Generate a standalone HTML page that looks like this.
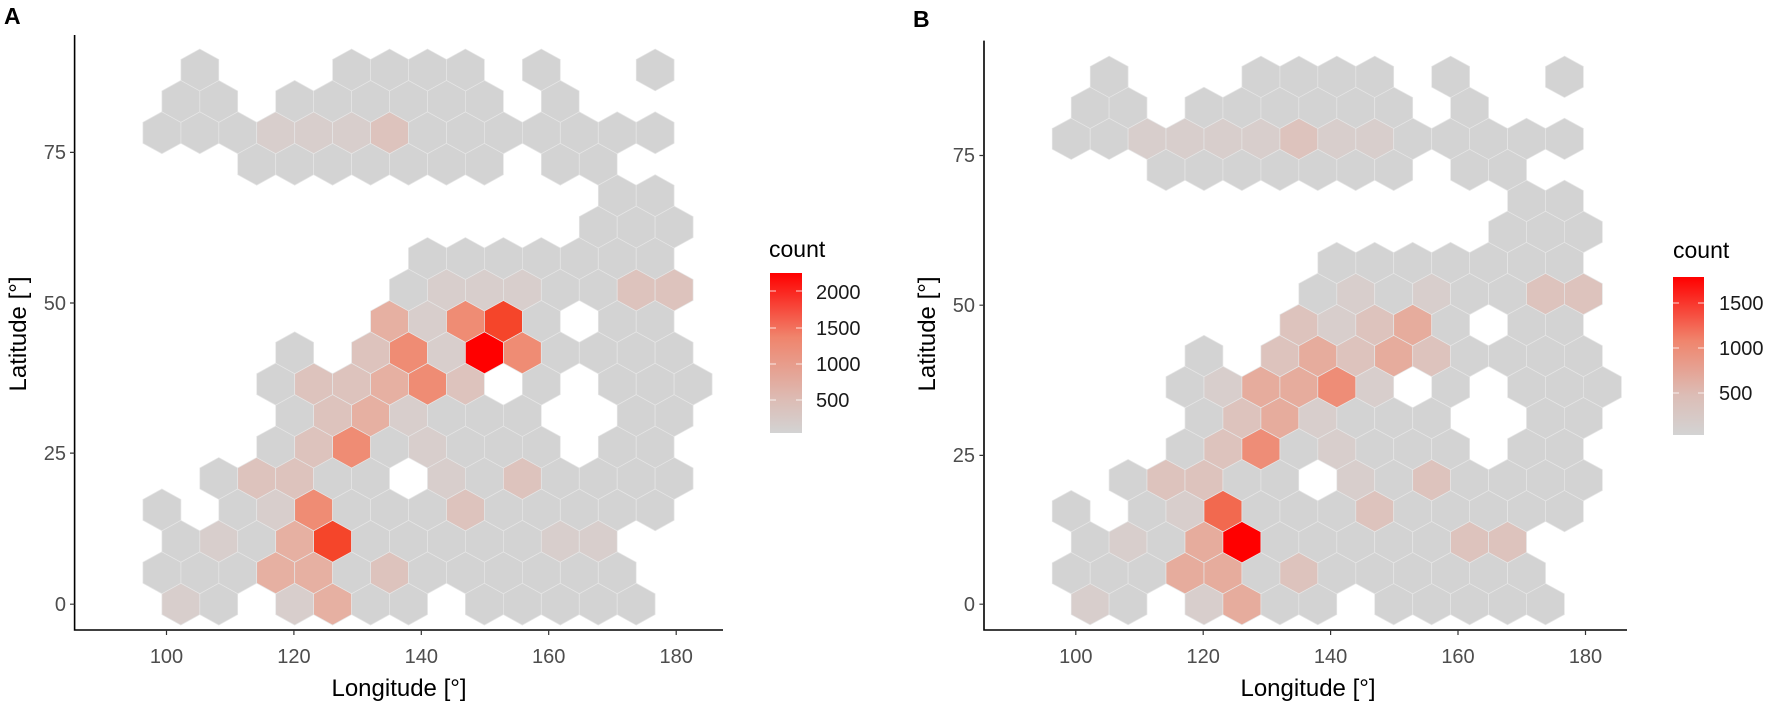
<!DOCTYPE html>
<html><head><meta charset="utf-8"><style>
html,body{margin:0;padding:0;background:#fff;}
svg{display:block;}
text{font-family:"Liberation Sans",Arial,sans-serif;}
</style></head><body>
<svg id="s" width="1772" height="707" viewBox="0 0 1772 707" xmlns="http://www.w3.org/2000/svg">
<defs>
<linearGradient id="gA" x1="0" y1="1" x2="0" y2="0">
<stop offset="0" stop-color="#d3d3d3"/><stop offset="0.2" stop-color="#dcbdb6"/><stop offset="0.6" stop-color="#f0846c"/><stop offset="1" stop-color="#ff0000"/></linearGradient>
<linearGradient id="gB" x1="0" y1="1" x2="0" y2="0">
<stop offset="0" stop-color="#d3d3d3"/><stop offset="0.25" stop-color="#dcbdb6"/><stop offset="0.6" stop-color="#f0846c"/><stop offset="1" stop-color="#ff0000"/></linearGradient>
</defs>
<g id="hA"></g><g id="hB"></g>
<g stroke="#000" stroke-width="1.6" fill="none">
<path d="M74.6 35 V630 H723"/>
<path d="M984 40.6 V630 H1627"/>
</g>
<g stroke="#333" stroke-width="1.2">
<path d="M70 604.2H74.6M70 453.1H74.6M70 303H74.6M70 152.4H74.6"/>
<path d="M166.5 630V635M293.9 630V635M421.3 630V635M548.7 630V635M676.2 630V635"/>
<path d="M979.4 604.2H984M979.4 455.4H984M979.4 305.2H984M979.4 155.5H984"/>
<path d="M1075.8 630V635M1203.2 630V635M1330.6 630V635M1458 630V635M1585.5 630V635"/>
</g>
<g fill="#4d4d4d" font-size="20">
<g text-anchor="end">
<text x="66" y="611">0</text><text x="66" y="460">25</text><text x="66" y="310">50</text><text x="66" y="159">75</text>
<text x="975" y="611">0</text><text x="975" y="462">25</text><text x="975" y="312">50</text><text x="975" y="162">75</text>
</g>
<g text-anchor="middle">
<text x="166.5" y="663">100</text><text x="293.9" y="663">120</text><text x="421.3" y="663">140</text><text x="548.7" y="663">160</text><text x="676.2" y="663">180</text>
<text x="1075.8" y="663">100</text><text x="1203.2" y="663">120</text><text x="1330.6" y="663">140</text><text x="1458" y="663">160</text><text x="1585.5" y="663">180</text>
</g></g>
<g fill="#000" font-size="24" text-anchor="middle">
<text x="399" y="696">Longitude [°]</text>
<text x="1308" y="696">Longitude [°]</text>
<text transform="translate(26,334) rotate(-90)">Latitude [°]</text>
<text transform="translate(935,334) rotate(-90)">Latitude [°]</text>
</g>
<g font-size="23" font-weight="bold"><text x="4" y="24">A</text><text x="913" y="27">B</text></g>
<text x="769" y="257" font-size="23">count</text>
<rect x="770" y="273" width="32" height="160" fill="url(#gA)"/>
<g stroke="#fff" stroke-opacity="0.8" stroke-width="1"><path d="M770 291h6M796 291h6M770 328h6M796 328h6M770 364h6M796 364h6M770 400h6M796 400h6"/></g>
<g font-size="20" fill="#1a1a1a"><text x="816" y="299">2000</text><text x="816" y="335">1500</text><text x="816" y="371">1000</text><text x="816" y="407">500</text></g>
<text x="1673" y="258" font-size="23">count</text>
<rect x="1673" y="277" width="31" height="158" fill="url(#gB)"/>
<g stroke="#fff" stroke-opacity="0.8" stroke-width="1"><path d="M1673 303h6M1698 303h6M1673 348h6M1698 348h6M1673 393h6M1698 393h6"/></g>
<g font-size="20" fill="#1a1a1a"><text x="1719" y="310">1500</text><text x="1719" y="355">1000</text><text x="1719" y="400">500</text></g>
</svg>
<script>
var occ={0:[0,1,3,4,5,6,8,9,10,11,12],1:[0,1,2,3,4,5,6,7,8,9,10,11,12],2:[0,1,2,3,4,5,6,7,8,9,10,11],
3:[0,2,3,4,5,6,7,8,9,10,11,12,13],4:[1,2,3,4,5,7,8,9,10,11,12,13],5:[3,4,5,6,7,8,9,10,12,13],
6:[3,4,5,6,7,8,9,12,13],7:[3,4,5,6,7,8,10,12,13,14],8:[3,5,6,7,8,9,10,11,12,13],9:[6,7,8,9,10,12,13],
10:[6,7,8,9,10,11,12,13],11:[7,8,9,10,11,12,13],12:[11,12,13],13:[12,13],14:[2,3,4,5,6,7,8,10,11],
15:[0,1,2,3,4,5,6,7,8,9,10,11,12,13],16:[0,1,3,4,5,6,7,8,10],17:[1,5,6,7,8,10,13]};
var LA={"15_3":1,"15_4":1,"15_5":1,"15_6":2,"10_12":2,"10_13":2,"10_7":1,"10_8":1,"10_9":1,
"9_6":3,"9_7":1,"9_8":4,"9_9":5,"8_5":2,"8_6":4,"8_7":1,"8_8":6,"8_9":4,
"7_4":2,"7_5":2,"7_6":3,"7_7":4,"7_8":2,"6_4":2,"6_5":3,"6_6":1,"5_4":2,"5_5":4,"5_7":1,
"4_2":2,"4_3":2,"4_7":1,"4_9":2,"3_3":1,"3_4":4,"3_8":2,"2_1":1,"2_3":3,"2_4":5,"2_10":1,"2_11":1,
"1_3":3,"1_4":3,"1_6":2,"0_0":1,"0_3":1,"0_4":3};
var LB={"15_2":1,"15_3":1,"15_4":1,"15_5":1,"15_6":2,"15_7":1,"15_8":1,"10_12":2,"10_13":2,"10_7":1,"10_9":1,
"9_6":2,"9_7":1,"9_8":2,"9_9":3,"8_5":2,"8_6":3,"8_7":2,"8_8":3,"8_9":2,
"7_4":1,"7_5":3,"7_6":3,"7_7":4,"7_8":1,"6_4":2,"6_5":3,"6_6":1,"5_4":2,"5_5":4,"5_7":1,
"4_2":2,"4_3":2,"4_7":1,"4_9":2,"3_3":1,"3_4":5,"3_8":2,"2_1":1,"2_3":3,"2_4":6,"2_10":2,"2_11":2,
"1_3":3,"1_4":3,"1_6":2,"0_0":1,"0_3":1,"0_4":3};
var CA=["#d3d3d3","#d8cecc","#ddc3bd","#e6b0a2","#ef8c74","#f5452a","#ff0000"];
var CB=["#d3d3d3","#d8cecc","#ddc3bd","#e6ac9d","#ee8d77","#f2694f","#ff0000"];
function draw(gid,x0,ybase,rs,L,C){
 var g=document.getElementById(gid),hw=18.97,out="";
 for(var r=0;r<=17;r++){var cy=(1340-rs*r)/2.218,h=rs/2.218*2/3;
  occ[r].forEach(function(k){
   var zx=(r%2==0?315:282)+66.1*k, cx=x0+zx/1.742;
   var lv=L[r+"_"+k]||0;
   var p=[[cx,cy-h],[cx+hw,cy-h/2],[cx+hw,cy+h/2],[cx,cy+h],[cx-hw,cy+h/2],[cx-hw,cy-h/2]];
   out+='<path d="M'+p.map(function(q){return q[0].toFixed(1)+" "+q[1].toFixed(1)}).join("L")+'Z" fill="'+C[lv]+'" stroke="#e6e6e6" stroke-width="0.7"/>';
  });}
 g.innerHTML=out;
}
draw("hA",0,0,69.7,LA,CA);
draw("hB",909.3,0,68.8,LB,CB);
</script>
</body></html>
